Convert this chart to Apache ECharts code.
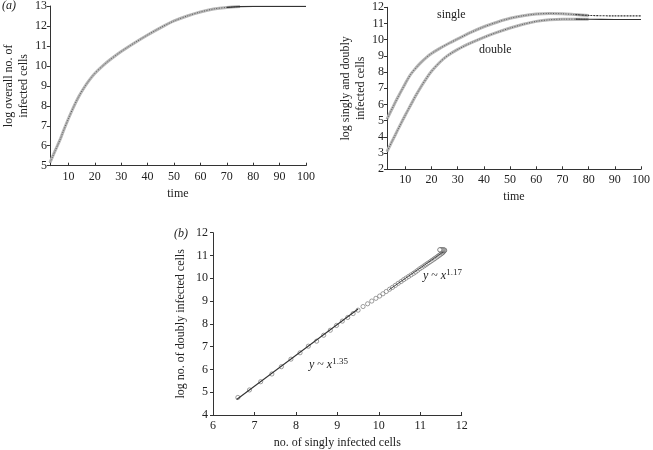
<!DOCTYPE html>
<html>
<head>
<meta charset="utf-8">
<script src="https://cdn.jsdelivr.net/npm/echarts@6/dist/echarts.min.js"></script>
<style>html,body{margin:0;padding:0;background:#fff}#c{width:653px;height:450px}</style>
</head>
<body>
<div id="c"></div>
<script>
// ---- data ----
const time    = [3,4,5,6,7,8,10,12,14,16,18,20,23,26,30,35,40,45,50,55,60,65,70,75,80,90,100];
const overall = [5.15,5.45,5.75,6.05,6.35,6.7,7.35,7.95,8.48,8.92,9.3,9.62,10.0,10.33,10.72,11.15,11.55,11.92,12.25,12.5,12.7,12.85,12.93,12.97,12.98,12.98,12.98];
const single  = [5.1,5.43,5.75,6.08,6.4,6.7,7.3,7.85,8.25,8.6,8.9,9.15,9.45,9.72,10.05,10.45,10.8,11.08,11.32,11.48,11.58,11.62,11.6,11.55,11.5,11.47,11.47];
const double  = [3.1,3.42,3.75,4.07,4.4,4.72,5.35,5.95,6.55,7.1,7.6,8.05,8.58,9.0,9.4,9.8,10.15,10.45,10.72,10.95,11.13,11.23,11.27,11.27,11.26,11.25,11.25];
const timeTicks = [10,20,30,40,50,60,70,80,90,100];

const singlyX = [6.60,6.88,7.15,7.42,7.65,7.88,8.10,8.30,8.50,8.67,8.83,8.98,9.12,9.25,9.38,9.50,9.62,9.73,9.83,9.93,10.02,10.10,10.18,10.26,10.33,10.40,10.47,10.54,10.60,10.66,10.72,10.78,10.84,10.89,10.94,10.99,11.04,11.09,11.13,11.17,11.21,11.25,11.29,11.33,11.36,11.40,11.43,11.46,11.49,11.52,11.54,11.56,11.57,11.58,11.59,11.58,11.56,11.54,11.52,11.50,11.48,11.47];
const doublyY = [4.77,5.10,5.46,5.80,6.12,6.45,6.73,7.02,7.24,7.50,7.72,7.93,8.12,8.28,8.45,8.60,8.76,8.88,9.00,9.12,9.22,9.32,9.42,9.52,9.60,9.69,9.78,9.86,9.94,10.01,10.08,10.15,10.22,10.28,10.35,10.42,10.48,10.54,10.59,10.64,10.69,10.74,10.79,10.84,10.88,10.93,10.97,11.01,11.05,11.09,11.12,11.16,11.19,11.21,11.23,11.24,11.25,11.25,11.25,11.25,11.25,11.25];
const fitLowX = [6.57, 9.50];
const fitLowY = [4.68, 8.65];
const fitHighX = [10.25, 11.55];
const fitHighY = [9.50, 11.15];

const FONT = 'Liberation Serif';
const TXT = '#222';

function zip(a, b) { return a.map((v, i) => [v, b[i]]); }

function xAxisTime(gi) {
  return {
    type: 'value', gridIndex: gi, min: 3, max: 100,
    name: 'time', nameLocation: 'middle', nameGap: 22,
    nameTextStyle: { fontFamily: FONT, fontSize: 12, color: TXT },
    axisLine: { lineStyle: { color: '#333', width: 1 } },
    axisTick: { inside: true, length: 3, customValues: timeTicks, lineStyle: { color: '#333' } },
    axisLabel: { customValues: timeTicks, fontFamily: FONT, fontSize: 12, color: TXT, margin: 5 },
    splitLine: { show: false }
  };
}
function yAxisV(gi, min, max, name, gap, margin) {
  return {
    type: 'value', gridIndex: gi, min: min, max: max, interval: 1,
    name: name, nameLocation: 'middle', nameGap: gap,
    nameTextStyle: { fontFamily: FONT, fontSize: 12, color: TXT, lineHeight: 15 },
    axisLine: { show: true, lineStyle: { color: '#333', width: 1 } },
    axisTick: { show: true, length: 3, lineStyle: { color: '#333' } },
    axisLabel: { fontFamily: FONT, fontSize: 12, color: TXT, margin: margin },
    splitLine: { show: false }
  };
}
// hatched band for the rising part, thin dark line for the plateau
function band(xi, data, cut, tailDash) {
  const head = data.filter(d => d[0] <= cut);
  const tail = data.filter(d => d[0] >= cut - 5);
  return [
    { type: 'line', xAxisIndex: xi, yAxisIndex: xi, data: head, smooth: 0.3,
      showSymbol: false, silent: true, lineStyle: { color: '#b8b8b8', width: 3 }, z: 2 },
    { type: 'line', xAxisIndex: xi, yAxisIndex: xi, data: head, smooth: 0.3,
      showSymbol: false, silent: true, lineStyle: { color: '#5a5a5a', width: 1, type: [1, 1.5] }, z: 3 },
    { type: 'line', xAxisIndex: xi, yAxisIndex: xi, data: tail, smooth: 0.3,
      showSymbol: false, silent: true, lineStyle: { color: '#333', width: 1.1, type: tailDash ? [2, 1] : 'solid' }, z: 3 }
  ];
}

const chart = echarts.init(document.getElementById('c'), null, { renderer: 'canvas' });
chart.setOption({
  animation: false,
  backgroundColor: '#fff',
  grid: [
    { left: 48.5, right: 347, top: 5, height: 160.7 },
    { left: 387, right: 9.7, top: 7.3, height: 162 },
    { left: 213, right: 191.3, top: 232.7, height: 184 }
  ],
  xAxis: [
    xAxisTime(0),
    xAxisTime(1),
    {
      type: 'value', gridIndex: 2, min: 6, max: 12, interval: 1,
      name: 'no. of singly infected cells', nameLocation: 'middle', nameGap: 22,
      nameTextStyle: { fontFamily: FONT, fontSize: 12, color: TXT },
      axisLine: { lineStyle: { color: '#333', width: 1 } },
      axisTick: { inside: true, length: 3, lineStyle: { color: '#333' } },
      axisLabel: { fontFamily: FONT, fontSize: 12, color: TXT, margin: 5 },
      splitLine: { show: false }
    }
  ],
  yAxis: [
    yAxisV(0, 5, 13, 'log overall no. of\ninfected cells', 18, 3),
    yAxisV(1, 2, 12, 'log singly and doubly\ninfected cells', 15, 3),
    yAxisV(2, 4, 12, 'log no. of doubly infected cells', 25, 5)
  ],
  series: [
    ...band(0, zip(time, overall), 75, false),
    ...band(1, zip(time, single), 80, true),
    ...band(1, zip(time, double), 80, false),
    { type: 'line', xAxisIndex: 2, yAxisIndex: 2, data: zip(fitLowX, fitLowY), showSymbol: false,
      lineStyle: { color: '#333', width: 1.1 }, z: 5 },
    { type: 'line', xAxisIndex: 2, yAxisIndex: 2, data: zip(fitHighX, fitHighY), showSymbol: false,
      lineStyle: { color: '#444', width: 1 }, z: 5 },
    { type: 'scatter', xAxisIndex: 2, yAxisIndex: 2, data: zip(singlyX, doublyY),
      symbol: 'circle', symbolSize: 4.2,
      itemStyle: { color: '#fff', borderColor: '#555', borderWidth: 0.7 }, z: 4 }
  ],
  graphic: [
    { type: 'text', left: 2, top: 0, style: { text: '(a)', fontFamily: FONT, fontStyle: 'italic', fontSize: 12, fill: TXT } },
    { type: 'text', left: 174, top: 228, style: { text: '(b)', fontFamily: FONT, fontStyle: 'italic', fontSize: 12, fill: TXT } },
    { type: 'text', left: 437, top: 9, style: { text: 'single', fontFamily: FONT, fontSize: 12, fill: TXT } },
    { type: 'text', left: 479, top: 44, style: { text: 'double', fontFamily: FONT, fontSize: 12, fill: TXT } },
    { type: 'text', left: 309, top: 357, style: {
        text: '{i|y} ~ {i|x}{s|1.35}', fontFamily: FONT, fontSize: 12, fill: TXT,
        rich: { i: { fontFamily: FONT, fontStyle: 'italic', fontSize: 12 }, s: { fontFamily: FONT, fontSize: 9, padding: [0, 0, 6, 0] } } } },
    { type: 'text', left: 423, top: 268, style: {
        text: '{i|y} ~ {i|x}{s|1.17}', fontFamily: FONT, fontSize: 12, fill: TXT,
        rich: { i: { fontFamily: FONT, fontStyle: 'italic', fontSize: 12 }, s: { fontFamily: FONT, fontSize: 9, padding: [0, 0, 6, 0] } } } }
  ]
});
</script>
</body>
</html>
